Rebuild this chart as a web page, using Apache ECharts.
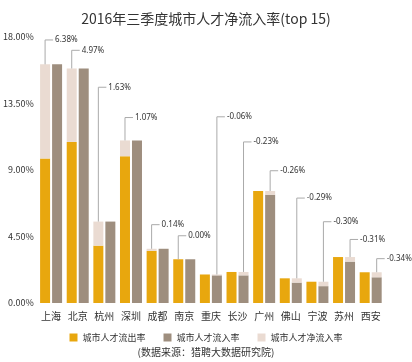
<!DOCTYPE html>
<html><head><meta charset="utf-8">
<script src="https://cdn.jsdelivr.net/npm/echarts@6/dist/echarts.min.js"></script>
<style>html,body{margin:0;padding:0;background:#fff}#c{width:412px;height:362px}</style>
</head><body><div id="c"></div>
<script>
var cities = ['上海','北京','杭州','深圳','成都','南京','重庆','长沙','广州','佛山','宁波','苏州','西安'];
var outflow = [9.77, 10.90, 3.88, 9.93, 3.53, 2.96, 1.93, 2.10, 7.58, 1.67, 1.44, 3.11, 2.08];
var inflow  = [16.15, 15.87, 5.51, 11.00, 3.67, 2.96, 1.87, 1.87, 7.32, 1.38, 1.14, 2.80, 1.74];
var netRate = [6.38, 4.97, 1.63, 1.07, 0.14, 0.00, -0.06, -0.23, -0.26, -0.29, -0.30, -0.31, -0.34];
var yTicks = [0, 4.5, 9, 13.5, 18];
// layout: height (in axis units) at which each leader label sits
var leaderTop = [17.8, 17.1, 14.6, 12.55, 5.3, 4.55, 12.6, 10.9, 8.95, 7.1, 5.5, 4.3, 3.0];

var FONT = '"Noto Sans CJK SC", "Noto Sans", sans-serif';
var NUMFONT = '"Noto Sans", sans-serif';
var posNet = netRate.map(function(v){ return v > 0 ? v : 0; });
var negNet = netRate.map(function(v){ return v < 0 ? -v : 0; });
var leaderData = cities.map(function(c, i){
  var top = netRate[i] >= 0 ? outflow[i] + netRate[i] : outflow[i];
  return [i, top, leaderTop[i], netRate[i]];
});

var chart = echarts.init(document.getElementById('c'));
chart.setOption({
  animation: false,
  textStyle: {fontFamily: FONT},
  title: [{
    text: '2016年三季度城市人才净流入率(top 15)', left: 'center', top: 7,
    textStyle: {fontSize: 14, fontWeight: 'normal', color: '#333', fontFamily: FONT}
  }, {
    text: '(数据来源：猎聘大数据研究院)', left: 'center', top: 342,
    textStyle: {fontSize: 10, fontWeight: 'normal', color: '#333', fontFamily: FONT}
  }],
  legend: {
    top: 328, left: 'center', itemWidth: 8, itemHeight: 8, itemGap: 18,
    icon: 'rect',
    textStyle: {fontSize: 9, color: '#333', fontFamily: FONT},
    data: ['城市人才流出率','城市人才流入率','城市人才净流入率']
  },
  grid: {left: 29, right: 28, top: 37, bottom: 59},
  xAxis: {
    type: 'category', data: cities,
    axisLine: {show: false}, axisTick: {show: false},
    axisLabel: {fontSize: 10, color: '#333', margin: 8, interval: 0, fontFamily: FONT}
  },
  yAxis: {
    type: 'value', min: yTicks[0], max: yTicks[yTicks.length-1], interval: 4.5,
    axisLine: {show: false}, axisTick: {show: false}, splitLine: {show: false},
    axisLabel: {fontSize: 9, color: '#333', margin: 4, fontFamily: FONT,
      formatter: function(v){ return v.toFixed(2) + '%'; }}
  },
  series: [
    {name: '城市人才流出率', type: 'bar', stack: 'a', barWidth: 10, barGap: '20%',
     itemStyle: {color: '#E8A70E'}, data: outflow},
    {name: '城市人才净流入率', type: 'bar', stack: 'a', barWidth: 10,
     itemStyle: {color: '#EADBD2'}, data: posNet},
    {name: '城市人才流入率', type: 'bar', stack: 'b', barWidth: 10,
     itemStyle: {color: '#9E8E7E'}, data: inflow},
    {name: '城市人才净流入率', type: 'bar', stack: 'b', barWidth: 10,
     itemStyle: {color: '#EADBD2'}, data: negNet},
    {type: 'custom', silent: true, z: 5,
     data: leaderData,
     renderItem: function(params, api){
       var idx = api.value(0);
       var net = api.value(3);
       var off = net >= 0 ? -6 : 6;
       var p0 = api.coord([idx, api.value(1)]);
       var p1 = api.coord([idx, api.value(2)]);
       var x = p0[0] + off;
       return {type: 'group', children: [
         {type: 'polyline', shape: {points: [[x, p0[1]], [x, p1[1]], [x + 8, p1[1]]]},
          style: {stroke: '#aaa', lineWidth: 1, fill: null}},
         {type: 'text', style: {x: x + 10, y: p1[1], text: net.toFixed(2) + '%',
          fontSize: 8, fill: '#333', fontFamily: NUMFONT, verticalAlign: 'middle', align: 'left'}}
       ]};
     }}
  ]
});
</script></body></html>
